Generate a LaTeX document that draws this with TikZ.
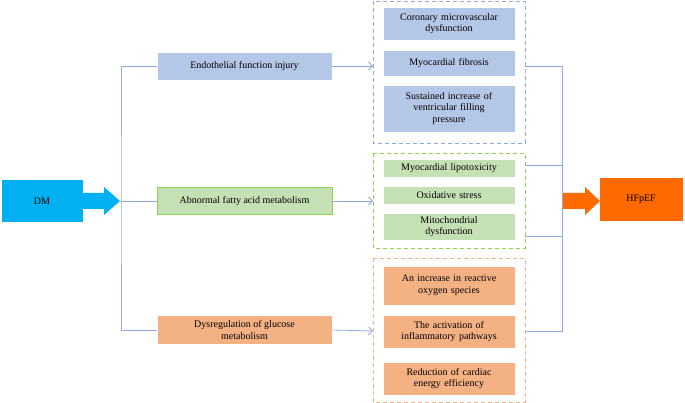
\documentclass[tikz,border=0pt]{standalone}
\usepackage{fontspec}
\setmainfont{Liberation Serif}
\usetikzlibrary{arrows.meta, shapes.arrows}
\definecolor{boxblue}{HTML}{B4C7E7}
\definecolor{boxgreen}{HTML}{C5E0B4}
\definecolor{boxorange}{HTML}{F4B183}
\definecolor{lineblue}{HTML}{8FAADC}
\definecolor{dashgreen}{HTML}{92D050}
\definecolor{dmblue}{HTML}{00B0F0}
\definecolor{hforange}{HTML}{FF6A00}
\tikzset{
	box/.style={draw=white, line width=0.6pt, minimum width=175pt, align=center, inner sep=1pt, font=\fontsize{10}{11.5}\selectfont},
	item/.style={box, minimum width=132pt, text width=128pt},
	group/.style={draw, dashed, line width=0.8pt, dash pattern=on 4pt off 3pt},
	link/.style={lineblue, line width=0.8pt},
	tip/.style={link, -{Straight Barb[length=4pt, width=8pt]}}
}
\begin{document}
\begin{tikzpicture}[x=1pt, y=-1pt]
	\useasboundingbox (0,0) rectangle (685,403);
	% end boxes
	\node[box, fill=dmblue, draw=dmblue, minimum width=80pt, minimum height=41pt] (dm) at (42,201) {DM};
	\node[box, fill=hforange, draw=hforange, minimum width=82pt, minimum height=42pt] (hf) at (641,199) {HFpEF};
	% middle column
	\node[box, fill=boxblue, minimum height=28pt] (endo) at (244.5,66) {Endothelial function injury};
	\node[box, fill=boxgreen, draw=dashgreen, minimum height=27pt] (fatty) at (244.5,201) {Abnormal fatty acid metabolism};
	\node[box, fill=boxorange, minimum height=29pt] (gluc) at (244.5,330) {Dysregulation of glucose\\metabolism};
	% groups
	\draw[group, lineblue] (373,1) rectangle (525,143);
	\draw[group, dashgreen] (373,153) rectangle (525,248);
	\draw[group, boxorange] (373,258) rectangle (525,402);
	\coordinate (g1) at (373,66);
	\coordinate (g2) at (373,201);
	\coordinate (g3) at (373,331);
	% items
	\node[item, fill=boxblue, minimum height=33pt] (a1) at (449,23.5) {Coronary microvascular\\dysfunction};
	\node[item, fill=boxblue, minimum height=26pt] (a2) at (449,63) {Myocardial fibrosis};
	\node[item, fill=boxblue, minimum height=47pt] (a3) at (449,108.5) {Sustained increase of\\ventricular filling\\pressure};
	\node[item, fill=boxgreen, minimum height=18pt] (b1) at (449,168) {Myocardial lipotoxicity};
	\node[item, fill=boxgreen, minimum height=18pt] (b2) at (449,195) {Oxidative stress};
	\node[item, fill=boxgreen, minimum height=27pt] (b3) at (449,226.5) {Mitochondrial\\dysfunction};
	\node[item, fill=boxorange, minimum height=39pt] (c1) at (449,285.5) {An increase in reactive\\oxygen species};
	\node[item, fill=boxorange, minimum height=33pt] (c2) at (449,331.5) {The activation of\\inflammatory pathways};
	\node[item, fill=boxorange, minimum height=33pt] (c3) at (449,378.5) {Reduction of cardiac\\energy efficiency};
	% left tree
	\coordinate (sl) at (121,201);
	\draw[link] (endo.west) -| (sl) |- (gluc.west);
	\draw[link] (sl) -- (fatty.west);
	\fill[dmblue] (82,193) -- (104,193) -- (104,187) -- (120,201) -- (104,215) -- (104,209) -- (82,209) -- cycle;
	\draw[tip] (endo.east) -- (g1);
	\draw[tip] (fatty.east) -- (g2);
	\draw[tip] (gluc.east) -- (g3);
	% right tree
	\coordinate (sr) at (562,201);
	\draw[link] (525,66) -| (sr);
	\draw[link] (525,165) -- (562,165);
	\draw[link] (525,236) -- (562,236);
	\draw[link] (525,331) -| (sr);
	\fill[hforange] (563,193) -- (585,193) -- (585,187) -- (600,201) -- (585,215) -- (585,209) -- (563,209) -- cycle;
\end{tikzpicture}
\end{document}
